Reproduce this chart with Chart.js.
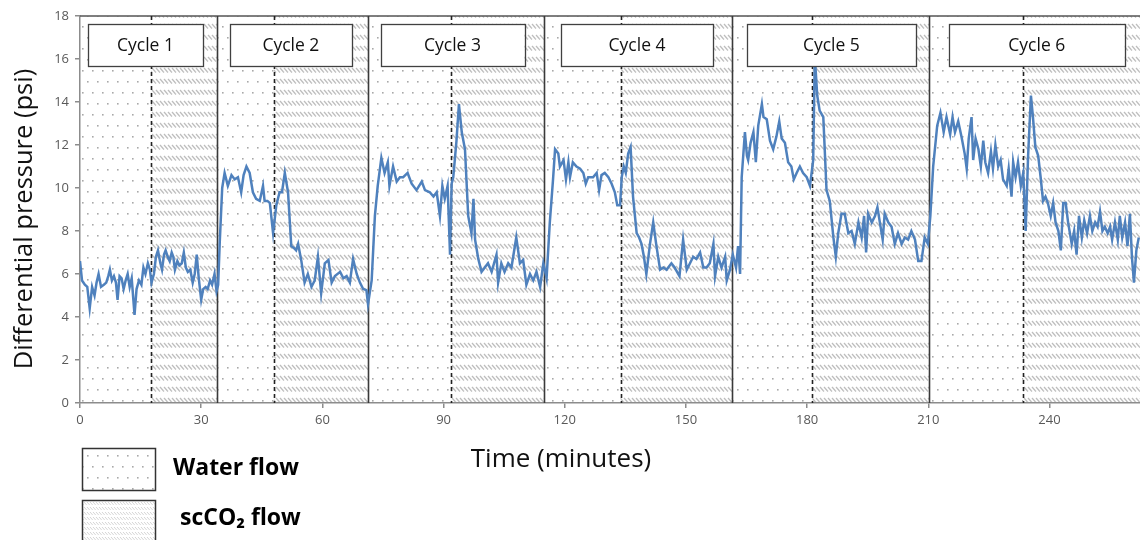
<!DOCTYPE html>
<html><head><meta charset="utf-8">
<script src="https://cdn.jsdelivr.net/npm/chart.js@4.4.1/dist/chart.umd.min.js"></script>
<style>html,body{margin:0;padding:0;background:#fff;}#wrap{width:1140px;height:540px;}</style>
</head><body><div id="wrap"><canvas id="c" width="1140" height="540"></canvas></div>
<script>
// ---- data ----
const cycle1Time = [0,0.5,1.2,1.8,2.4,3.0,3.6,4.1,4.6,5.2, 5.9,6.5,7.0,7.4,7.9,8.4,8.9,9.3,9.8,10.3, 10.8,11.3,11.8,12.3,12.8,13.5,14.0,14.6,15.2,15.7, 16.2,16.8,17.3,17.7,18.3,18.8,19.3,19.9,20.3,20.8, 21.2,21.7,22.2,22.7,23.1,23.5,24.1,24.6,25.2,25.7, 26.2,26.7,27.3,27.9,28.4,28.9,29.4,30.0,30.5,31.1, 31.6,32.2,32.7,33.3,33.8,34.2];
const cycle1Psi  = [6.6,5.7,5.5,5.4,4.4,5.4,5.0,5.6,6.0,5.4, 5.5,5.6,5.9,6.2,5.7,5.9,5.6,4.8,5.9,5.8, 5.3,5.7,6.0,5.4,5.8,4.1,5.3,5.7,5.5,6.3, 6.0,6.5,6.2,5.6,6.0,6.8,7.1,6.5,6.2,6.9, 7.1,6.8,6.6,7.0,6.8,6.2,6.6,6.4,6.5,7.0, 6.3,6.1,6.2,5.6,6.0,6.9,5.8,4.8,5.3,5.4, 5.3,5.7,5.5,6.0,5.2,5.5];
const cycle2Time = [34.6,35.2,35.8,36.6,37.5,38.3,39.1,39.9,40.5,41.2, 42.0,42.8,43.6,44.5,45.3,45.7,46.4,47.0,47.8,48.6, 49.4,50.0,50.7,51.5,52.3,53.0,53.5,54.0,54.8,55.6, 56.4,57.3,58.1,58.9,59.7,60.6,61.5,62.3,63.1,64.4, 65.2,66.0,66.8,67.6,68.5,69.3,70.1,70.9,71.3];
const cycle2Psi  = [7.5,10.0,10.7,10.1,10.6,10.4,10.5,9.8,10.6,11.0, 10.7,9.8,9.5,9.4,10.1,9.4,9.4,9.3,7.9,9.2, 9.8,9.8,10.7,9.8,7.3,7.2,7.1,7.4,6.6,5.6, 6.0,5.4,5.7,6.8,5.1,6.5,6.65,5.6,5.9,6.1, 5.8,5.9,5.6,6.7,6.0,5.6,5.3,5.25,4.6];
const cycle3Time = [72.2,73.0,73.7,74.6,75.4,76.2,76.6,77.5,78.4,79.2, 80.0,81.1,82.1,83.3,84.6,85.4,86.6,87.5,88.3,89.1, 89.7,90.3,91.0,91.6,92.0,92.4,93.2,93.8,94.5,95.3, 96.1,96.9,97.4,97.8,98.6,99.4,100.2,101.0,101.9,103.1, 103.5,104.3,105.1,106.0,106.8,108.0,108.9,109.7,110.5,111.4, 112.2,113.0,113.9,114.7,115.5];
const cycle3Psi  = [5.7,8.7,10.1,11.4,10.7,11.2,10.1,11.0,10.3,10.5, 10.5,10.7,10.2,9.9,10.3,9.9,9.8,9.6,9.8,8.7, 10.1,9.5,10.1,6.9,10.2,10.5,12.2,13.9,12.6,11.8, 8.7,7.9,9.5,7.6,6.7,6.1,6.3,6.5,6.1,6.9, 5.6,6.5,6.1,6.5,6.3,7.7,6.5,6.65,5.5,6.0, 5.7,6.1,5.4,6.5,5.8];
const cycle4Time = [116.3,117.1,117.6,118.4,118.8,119.7,120.3,120.9,121.3,122.0, 122.9,123.8,124.6,125.2,125.8,127.0,127.9,128.5,129.1,129.9, 130.8,131.6,132.4,133.0,133.7,134.1,134.6,135.1,135.7,136.3, 136.9,137.8,138.4,139.0,139.6,140.2,141.1,141.9,142.7,143.6, 144.4,145.2,146.4,147.2,148.4,149.3,150.2,151.0,151.8,152.6, 153.5,154.3,155.1,155.9,156.8,157.2,158.0,158.8,159.7,160.1, 160.9,161.6,162.4,162.9,163.4];
const cycle4Psi  = [8.4,10.4,11.8,11.6,11.0,11.3,10.4,11.2,10.5,11.2, 11.0,10.9,10.7,10.2,10.5,10.5,10.7,9.9,10.6,10.7, 10.5,10.2,9.8,9.2,9.2,10.5,11.0,10.7,11.6,11.9, 9.6,7.9,7.7,7.4,6.8,6.0,7.4,8.4,7.3,6.2, 6.3,6.2,6.5,6.3,5.9,7.6,6.2,6.5,6.8,6.7, 7.0,6.3,6.3,6.5,7.4,5.9,6.8,6.3,6.8,5.7, 6.2,6.9,6.3,7.3,6.0];
const cycle5Time = [163.8,164.6,165.1,165.4,166.0,166.7,167.3,167.9,168.8,169.2, 170.0,170.8,171.6,172.4,173.1,173.7,174.5,175.3,176.1,176.7, 177.4,178.2,179.0,179.9,180.7,181.5,181.9,182.5,183.1,184.0, 184.8,185.6,186.5,187.1,187.7,188.5,189.3,190.2,191.0,191.8, 192.7,193.5,194.1,194.6,195.1,196.0,196.8,197.4,198.0,198.7, 199.2,200.1,200.9,201.7,202.5,203.4,204.2,205.0,205.8,206.7, 207.5,208.3,209.1,209.9];
const cycle5Psi  = [10.5,12.6,11.5,11.3,12.1,12.6,11.2,12.9,13.9,13.3, 13.2,12.2,11.8,12.4,13.1,12.3,12.1,11.2,11.0,10.4, 10.7,11.0,10.7,10.5,10.1,11.3,16.1,14.3,13.6,13.3, 9.9,9.4,7.7,6.8,7.9,8.8,8.8,7.9,8.0,7.4, 8.4,7.7,8.7,7.0,8.8,8.4,8.7,9.1,8.4,7.6, 8.8,8.4,8.2,7.4,7.9,7.4,7.7,7.6,8.0,7.6, 6.6,6.6,7.7,7.4];
const cycle6Time = [210.5,211.2,212.2,213.0,213.8,214.5,215.4,216.0,216.6,217.4, 218.2,219.0,219.5,220.0,220.7,221.1,221.7,222.4,223.0,223.6, 224.1,224.8,225.5,226.0,226.6,227.3,227.9,228.5,229.4,229.9, 230.6,231.0,231.6,232.2,232.9,233.5,234.1,234.7,235.4,235.9, 236.5,237.2,237.8,238.4,239.0,239.6,240.3,240.9,241.5,242.2, 242.8,243.4,244.0,244.6,245.5,246.1,246.7,247.3,248.0,248.6, 249.3,250.0,250.6,251.3,251.9,252.5,253.1,253.7,254.4,255.0, 255.5,256.2,256.9,257.4,258.0,258.7,259.3,259.9,260.4,260.9, 261.5,262.1];
const cycle6Psi  = [8.7,11.0,12.9,13.5,12.6,13.3,12.5,13.3,12.6,13.1, 12.4,11.6,10.9,12.3,13.3,11.3,12.3,11.8,11.0,12.2, 11.2,10.7,11.7,10.9,12.0,11.0,11.3,10.4,10.1,10.9, 9.6,11.2,10.5,11.2,10.1,10.7,8.0,11.5,14.3,13.3, 11.9,11.5,10.5,9.4,9.6,9.3,8.7,9.3,8.4,8.0, 7.1,9.3,9.3,8.4,7.4,8.0,6.9,8.7,7.7,8.5, 7.9,8.7,8.0,8.4,8.2,8.9,8.0,8.2,7.9,8.2, 7.6,8.4,7.6,8.7,7.7,8.4,7.3,8.8,6.8,5.6, 7.1,7.7];

const cycleLabels = ['Cycle 1','Cycle 2','Cycle 3','Cycle 4','Cycle 5','Cycle 6'];
const cycleStartMin = [0, 34, 71.4, 114.9, 161.5, 210.2];   // water flow starts (solid lines)
const co2StartMin   = [17.6, 48, 91.9, 133.8, 181.3, 233.5]; // scCO2 flow starts (dashed lines)
const legendLabels = ['Water flow', 'scCO\u2082 flow'];
const xTitle = 'Time (minutes)';
const yTitle = 'Differential pressure (psi)';

// ---- layout (not data) ----
const labelBoxMin = [[2.0,30.4],[37.1,67.3],[74.4,110.0],[119.1,156.7],[165.1,206.9],[215.1,258.6]];
const FONT = "'Open Sans', 'DejaVu Sans', sans-serif";

const allTime = [].concat(cycle1Time, cycle2Time, cycle3Time, cycle4Time, cycle5Time, cycle6Time);
const allPsi  = [].concat(cycle1Psi, cycle2Psi, cycle3Psi, cycle4Psi, cycle5Psi, cycle6Psi);
const points = allTime.map((t, i) => ({x: t, y: allPsi[i]}));

function makeDots(ctx, bg) {
  const c = document.createElement('canvas'); c.width = 10; c.height = 22;
  const g = c.getContext('2d');
  g.fillStyle = bg; g.fillRect(0, 0, 10, 22);
  g.fillStyle = '#a9a9a9';
  g.fillRect(2, 4, 1.6, 1.6); g.fillRect(7, 15, 1.6, 1.6);
  return ctx.createPattern(c, 'repeat');
}
function makeHatch(ctx, w, h, color, lw) {
  const c = document.createElement('canvas'); c.width = w; c.height = h;
  const g = c.getContext('2d');
  g.fillStyle = '#fff'; g.fillRect(0, 0, w, h);
  g.strokeStyle = color; g.lineWidth = lw;
  for (let k = -1; k <= 1; k++) {
    g.beginPath(); g.moveTo(k * w, 2); g.lineTo(k * w + 4, 6.5); g.stroke();
  }
  return ctx.createPattern(c, 'repeat');
}

const ctx = document.getElementById('c').getContext('2d');
const dots = makeDots(ctx, '#ffffff');
const hatch = makeHatch(ctx, 4, 11, '#bdbdbd', 1.4);
const hatchSmall = makeHatch(ctx, 3, 5, '#d0d0d0', 0.9);

const bgPlugin = {
  id: 'bgRegions',
  beforeDraw(chart) {
    const {ctx, chartArea: {left, right, top, bottom}, scales: {x}} = chart;
    ctx.save();
    ctx.fillStyle = '#fff'; ctx.fillRect(0, 0, chart.width, chart.height);
    for (let i = 0; i < cycleStartMin.length; i++) {
      const x0 = x.getPixelForValue(cycleStartMin[i]);
      const x1 = x.getPixelForValue(co2StartMin[i]);
      const x2 = i + 1 < cycleStartMin.length ? x.getPixelForValue(cycleStartMin[i + 1]) : right;
      ctx.fillStyle = dots; ctx.fillRect(x0, top, x1 - x0, bottom - top);
      ctx.fillStyle = hatch; ctx.fillRect(x1, top, x2 - x1, bottom - top);
    }
    ctx.restore();
  },
  beforeDatasetsDraw(chart) {
    const {ctx, chartArea: {left, right, top, bottom}, scales: {x}} = chart;
    ctx.save();
    ctx.strokeStyle = '#555'; ctx.lineWidth = 1.5;
    ctx.beginPath(); ctx.moveTo(left, top); ctx.lineTo(right, top); ctx.stroke();
    ctx.strokeStyle = '#3a3a3a'; ctx.lineWidth = 1.6;
    for (let i = 1; i < cycleStartMin.length; i++) {
      const px = Math.round(x.getPixelForValue(cycleStartMin[i])) + 0.5;
      ctx.beginPath(); ctx.moveTo(px, top); ctx.lineTo(px, bottom); ctx.stroke();
    }
    ctx.strokeStyle = '#222'; ctx.lineWidth = 1.6; ctx.setLineDash([4, 3]);
    for (let i = 0; i < co2StartMin.length; i++) {
      const px = Math.round(x.getPixelForValue(co2StartMin[i])) + 0.5;
      ctx.beginPath(); ctx.moveTo(px, top); ctx.lineTo(px, bottom); ctx.stroke();
    }
    ctx.restore();
  },
  afterDatasetsDraw(chart) {
    const {ctx, chartArea: {top}, scales: {x}} = chart;
    ctx.save();
    for (let i = 0; i < cycleLabels.length; i++) {
      const x0 = x.getPixelForValue(labelBoxMin[i][0]);
      const x1 = x.getPixelForValue(labelBoxMin[i][1]);
      const y0 = top + 8, h = 42;
      ctx.fillStyle = '#fff'; ctx.fillRect(x0, y0, x1 - x0, h);
      ctx.strokeStyle = '#404040'; ctx.lineWidth = 1.3;
      ctx.strokeRect(Math.round(x0) + 0.5, Math.round(y0) + 0.5, Math.round(x1 - x0), h);
      ctx.fillStyle = '#111'; ctx.font = '17.5px ' + FONT;
      ctx.textAlign = 'center'; ctx.textBaseline = 'middle';
      ctx.fillText(cycleLabels[i], (x0 + x1) / 2, y0 + h / 2 + 1);
    }
    ctx.restore();
  },
  afterDraw(chart) {
    const {ctx} = chart;
    ctx.save();
    // axis titles
    ctx.fillStyle = '#111'; ctx.font = '26px ' + FONT;
    ctx.textAlign = 'center'; ctx.textBaseline = 'middle';
    ctx.fillText(xTitle, 561, 460);
    ctx.save();
    ctx.translate(25, 219); ctx.rotate(-Math.PI / 2);
    ctx.font = '25.5px ' + FONT;
    ctx.fillText(yTitle, 0, 0);
    ctx.restore();
    // legend
    ctx.fillStyle = dots; ctx.fillRect(82, 448, 73, 42);
    ctx.fillStyle = hatchSmall; ctx.fillRect(82, 500, 73, 45);
    ctx.strokeStyle = '#333'; ctx.lineWidth = 1.5;
    ctx.strokeRect(82.5, 448.5, 73, 42);
    ctx.strokeRect(82.5, 500.5, 73, 45);
    ctx.fillStyle = '#000'; ctx.font = 'bold 23px ' + FONT;
    ctx.textAlign = 'left'; ctx.textBaseline = 'middle';
    ctx.fillText(legendLabels[0], 173, 468);
    ctx.fillText(legendLabels[1], 180, 518);
    ctx.restore();
  }
};

new Chart(ctx, {
  type: 'line',
  data: {
    datasets: [{
      data: points,
      borderColor: '#4F81BD',
      borderWidth: 2.5,
      pointRadius: 0,
      tension: 0,
      fill: false
    }]
  },
  options: {
    responsive: false,
    animation: false,
    events: [],
    layout: {padding: {top: 16, right: 0, left: 0, bottom: 0}},
    plugins: {legend: {display: false}, tooltip: {enabled: false}},
    scales: {
      x: {
        type: 'linear', min: 0, max: 262.4,
        afterFit(s) { s.height = 137; },
        ticks: {stepSize: 30, includeBounds: false, color: '#595959', font: {family: FONT, size: 13}, padding: 4, maxRotation: 0},
        grid: {drawOnChartArea: false, drawTicks: true, tickLength: 5, color: '#8c8c8c', lineWidth: 1.5},
        border: {color: '#8c8c8c', width: 1.5}
      },
      y: {
        min: 0, max: 18,
        afterFit(s) { s.width = 80; },
        ticks: {stepSize: 2, color: '#595959', font: {family: FONT, size: 13}, padding: 6},
        grid: {drawOnChartArea: false, drawTicks: true, tickLength: 5, color: '#8c8c8c', lineWidth: 1.5},
        border: {color: '#8c8c8c', width: 1.5},
        title: {display: false, text: yTitle}
      }
    }
  },
  plugins: [bgPlugin]
});
</script>
</body></html>
